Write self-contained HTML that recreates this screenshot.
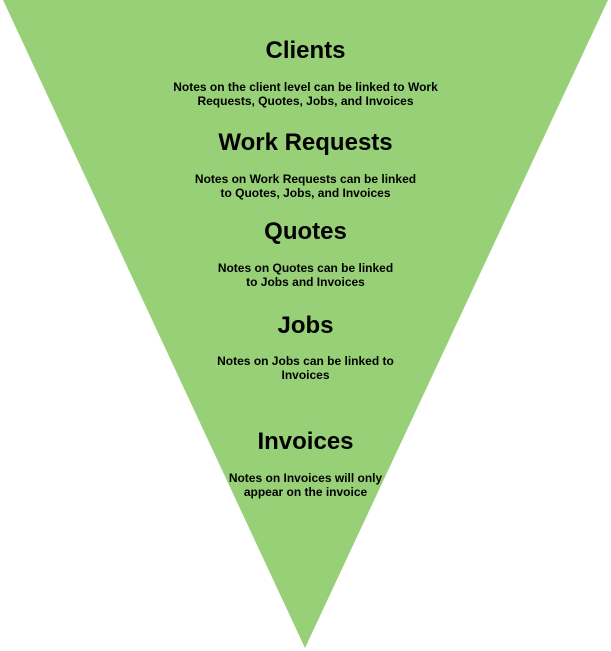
<!DOCTYPE html>
<html><head><meta charset="utf-8"><style>
body{margin:0;width:611px;height:651px;background:#fff;position:relative;overflow:hidden;font-family:"Liberation Sans",Arial,sans-serif;}
svg{position:absolute;left:0;top:0}
.t{position:absolute;left:0;width:611px;text-align:center;font-weight:bold;color:#000}
.h{font-size:24px;line-height:26px}
.n{font-size:12px;line-height:13.5px}
</style></head><body>
<svg width="611" height="651"><polygon points="3,0 608,0 305,648" fill="#97d077"/></svg>
<div class="t h" style="top:38px">Clients</div>
<div class="t n" style="top:81px">Notes on the client level can be linked to Work<br>Requests, Quotes, Jobs, and Invoices</div>
<div class="t h" style="top:130px">Work Requests</div>
<div class="t n" style="top:173px">Notes on Work Requests can be linked<br>to Quotes, Jobs, and Invoices</div>
<div class="t h" style="top:219px">Quotes</div>
<div class="t n" style="top:262px">Notes on Quotes can be linked<br>to Jobs and Invoices</div>
<div class="t h" style="top:313px">Jobs</div>
<div class="t n" style="top:355px">Notes on Jobs can be linked to<br>Invoices</div>
<div class="t h" style="top:429px">Invoices</div>
<div class="t n" style="top:472px">Notes on Invoices will only<br>appear on the invoice</div>
</body></html>
